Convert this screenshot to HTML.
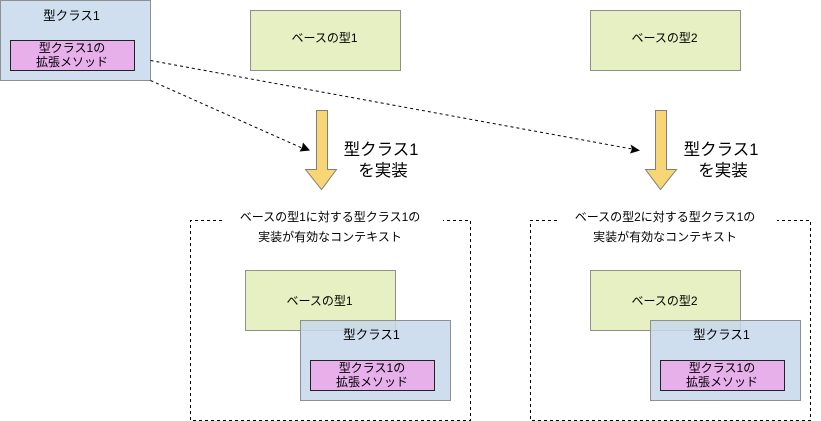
<!DOCTYPE html>
<html><head><meta charset="utf-8">
<style>
html,body{margin:0;padding:0;background:#fff;width:821px;height:421px;overflow:hidden}
svg{display:block}
text{font-family:"Liberation Sans","Noto Sans CJK JP",sans-serif;font-size:12px;fill:#000;text-anchor:middle}
.big{font-size:16.5px}
.m{font-size:12.5px}
.g{fill:#e6f0c2;stroke:#8f8f8f}
.b{fill:#cfdfef;stroke:#8f8f8f}
.bo{fill:#c5d8eb;fill-opacity:.85;stroke:#8f8f8f}
.p{fill:#e8b0ea;stroke:#222}
.d{fill:none;stroke:#000;stroke-dasharray:3 3}
.a{fill:#f8d675;stroke:#7f7f7f}
</style></head><body>
<svg width="821" height="421" viewBox="0 0 821 421" xmlns="http://www.w3.org/2000/svg">
<rect class="b" x="0.5" y="0.5" width="150" height="80"/>
<text class="m" x="71.5" y="20">型クラス1</text>
<rect class="p" x="10.5" y="40.5" width="124" height="30"/>
<text x="72" y="52">型クラス1の</text>
<text x="72" y="66">拡張メソッド</text>

<rect class="g" x="250.5" y="10.5" width="150" height="60"/>
<text x="324.5" y="42">ベースの型1</text>
<rect class="g" x="590.5" y="10.5" width="150" height="60"/>
<text x="664.5" y="42">ベースの型2</text>

<path class="d" d="M150.5 60.5L632 149"/>
<path d="M640 150.5L630 153.5L632 149L630.5 144.5Z" fill="#000"/>
<path class="d" d="M150.5 80.5L302 148"/>
<path d="M310 150.5L299.5 151.5L302 147.5L303 142.5Z" fill="#000"/>

<path class="a" d="M316.5 110.5H327.5V169.5H336.5L321.5 189.5L305.5 169.5H316.5Z"/>
<path class="a" d="M655.5 110.5H666.5V169.5H676.5L660.5 189.5L645.5 169.5H655.5Z"/>
<text class="big" x="381" y="155">型クラス1</text>
<text class="big" x="383" y="176">を実装</text>
<text class="big" x="721" y="155">型クラス1</text>
<text class="big" x="723" y="176">を実装</text>

<path class="d" d="M222 220.5H190.5V420.5H470.5V220.5H443"/>
<path class="d" d="M557 220.5H530.5V420.5H810.5V220.5H777"/>
<text x="330" y="221">ベースの型1に対する型クラス1の</text>
<text x="330" y="241">実装が有効なコンテキスト</text>
<text x="665" y="221">ベースの型2に対する型クラス1の</text>
<text x="665" y="241">実装が有効なコンテキスト</text>

<rect class="g" x="245.5" y="270.5" width="150" height="60"/>
<text x="319.5" y="305">ベースの型1</text>
<rect class="bo" x="300.5" y="320.5" width="150" height="80"/>
<text class="m" x="371.5" y="339">型クラス1</text>
<rect class="p" x="310.5" y="360.5" width="124" height="30"/>
<text x="372" y="372">型クラス1の</text>
<text x="372" y="386">拡張メソッド</text>

<rect class="g" x="590.5" y="270.5" width="150" height="60"/>
<text x="664.5" y="305">ベースの型2</text>
<rect class="bo" x="650.5" y="320.5" width="150" height="80"/>
<text class="m" x="721.5" y="339">型クラス1</text>
<rect class="p" x="660.5" y="360.5" width="124" height="30"/>
<text x="722" y="372">型クラス1の</text>
<text x="722" y="386">拡張メソッド</text>
</svg>
</body></html>
